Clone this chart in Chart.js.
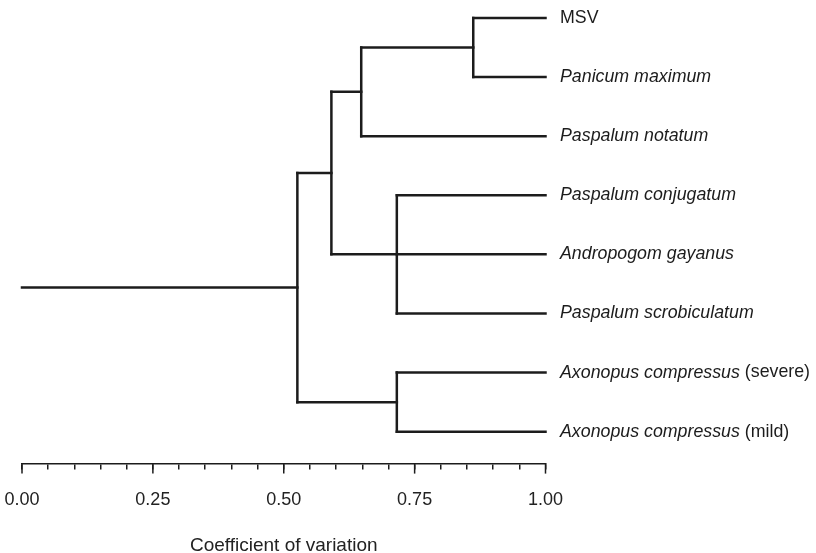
<!DOCTYPE html>
<html>
<head>
<meta charset="utf-8">
<script src="https://cdn.jsdelivr.net/npm/chart.js@4"></script>
<style>
  html, body { margin: 0; padding: 0; background: #fff; }
  #wrap { width: 816px; height: 553px; }
</style>
</head>
<body>
<div id="wrap"><canvas id="myChart" width="816" height="553"></canvas></div>
<script>
// leaves, top to bottom: italic part + plain part of the label
const leafItalic = ['', 'Panicum maximum', 'Paspalum notatum', 'Paspalum conjugatum',
    'Andropogom gayanus', 'Paspalum scrobiculatum', 'Axonopus compressus', 'Axonopus compressus'];
const leafPlain = ['MSV', '', '', '', '', '', ' (severe)', ' (mild)'];

// merges: name, members (leaf index or merge name), height on the axis
const mergeNames = ['A', 'B', 'C', 'D', 'E', 'root'];
const mergeMembers = [[0, 1], ['A', 2], [3, 4, 5], [6, 7], ['B', 'C'], ['E', 'D']];
const mergeHeights = [0.862, 0.648, 0.716, 0.716, 0.591, 0.526];

const xTicks = [0, 0.25, 0.5, 0.75, 1.0];
const lineColor = '#1c1c1c';
const fontFam = '"Liberation Sans", Arial, sans-serif';

// work out positions of every node
const nodeX = {}, nodeY = {};
leafItalic.forEach((_, i) => { nodeX[i] = 1.0; nodeY[i] = i; });
const segments = [];
mergeNames.forEach((name, k) => {
    const h = mergeHeights[k];
    const ys = mergeMembers[k].map(m => nodeY[m]);
    mergeMembers[k].forEach(m => {
        segments.push([{x: nodeX[m], y: nodeY[m]}, {x: h, y: nodeY[m]}]);
    });
    const lo = Math.min(...ys), hi = Math.max(...ys);
    segments.push([{x: h, y: lo}, {x: h, y: hi}]);
    nodeX[name] = h;
    nodeY[name] = (lo + hi) / 2;
});
// root stem
segments.push([{x: 0, y: nodeY.root}, {x: nodeX.root, y: nodeY.root}]);

const labelPlugin = {
    id: 'leafLabels',
    afterDraw(chart) {
        const ctx = chart.ctx;
        const xs = chart.scales.x, ys = chart.scales.y;
        ctx.save();
        ctx.fillStyle = lineColor;
        ctx.textBaseline = 'middle';
        leafItalic.forEach((it, i) => {
            let px = xs.getPixelForValue(1.0) + 14.5;
            const py = ys.getPixelForValue(i);
            if (it) {
                ctx.font = 'italic 17.8px ' + fontFam;
                ctx.fillText(it, px, py);
                px += ctx.measureText(it).width;
            }
            if (leafPlain[i]) {
                ctx.font = '17.8px ' + fontFam;
                ctx.fillText(leafPlain[i], px, py);
            }
        });
        // longer ticks at the labelled values
        ctx.strokeStyle = lineColor;
        ctx.lineWidth = 1.5;
        const base = chart.chartArea.bottom;
        xTicks.forEach(v => {
            const px = xs.getPixelForValue(v);
            ctx.beginPath();
            ctx.moveTo(px, base);
            ctx.lineTo(px, base + 10);
            ctx.stroke();
        });
        ctx.restore();
    }
};

const ctx = document.getElementById('myChart');
new Chart(ctx, {
    type: 'scatter',
    data: {
        datasets: segments.map(s => ({
            data: s,
            showLine: true,
            borderColor: lineColor,
            borderWidth: 2.5,
            borderCapStyle: 'square',
            pointRadius: 0,
            clip: false
        }))
    },
    options: {
        responsive: false,
        animation: false,
        events: [],
        layout: { padding: { left: 22, right: 270.5, top: 0, bottom: -4 } },
        plugins: { legend: { display: false }, tooltip: { enabled: false } },
        scales: {
            x: {
                type: 'linear',
                min: 0,
                max: 1,
                afterFit: s => { s.paddingLeft = 0; s.paddingRight = 0; },
                border: { display: true, color: lineColor, width: 1.5 },
                grid: { drawOnChartArea: false, drawTicks: true, tickLength: 6, color: lineColor, lineWidth: 1.5 },
                ticks: {
                    stepSize: 0.05,
                    padding: 20,
                    color: '#222',
                    font: { family: fontFam, size: 18 },
                    autoSkip: false,
                    maxRotation: 0,
                    callback: v => {
                        const r = Math.round(v * 100);
                        return r % 25 === 0 ? (r / 100).toFixed(2) : '';
                    }
                },
                title: {
                    display: true,
                    text: 'Coefficient of variation',
                    color: '#222',
                    font: { family: fontFam, size: 19 },
                    padding: { top: 3, bottom: 0 }
                }
            },
            y: {
                type: 'linear',
                display: false,
                reverse: true,
                min: -0.3036,
                max: 7.54
            }
        }
    },
    plugins: [labelPlugin]
});
</script>
</body>
</html>
